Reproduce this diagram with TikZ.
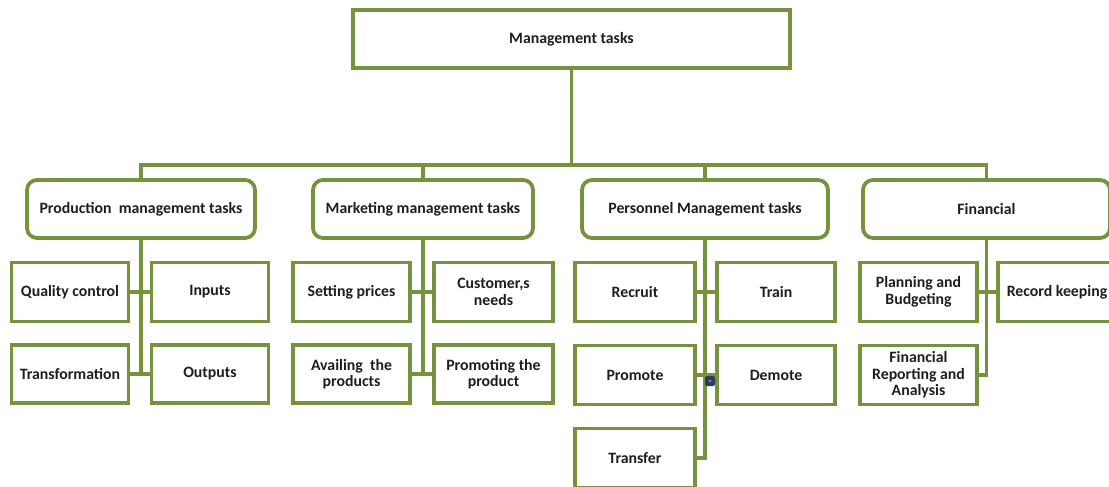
\documentclass[tikz,border=0pt]{standalone}
\usepackage{fontspec}
\setmainfont{Carlito}
\definecolor{olive}{HTML}{76923C}
\definecolor{txt}{HTML}{1E1E1E}
\definecolor{handlec}{HTML}{2C3B63}
\begin{document}
\begin{tikzpicture}[x=1pt,y=-1pt,
  base/.style={draw=olive,line width=3.8pt,fill=white,text=txt,align=center,
    font=\fontsize{15.8}{16.5}\selectfont\bfseries,inner sep=1pt},
  topbox/.style={base},
  midbox/.style={base,rounded corners=10pt,minimum height=58pt},
  leafbox/.style={base,minimum width=117pt,minimum height=59pt},
  conn/.style={draw=olive,line width=3.2pt}]
\useasboundingbox (0,0) rectangle (1109,487);
\clip (0,0) rectangle (1109,487);
% top
\node[topbox,minimum width=437pt,minimum height=58pt] (top) at (571.5,39) {Management tasks};
% level 2
\node[midbox,minimum width=228pt] (prod) at (141,209) {Production\ \ management tasks};
\node[midbox,minimum width=220pt] (mark) at (423,209) {Marketing management tasks};
\node[midbox,minimum width=246pt] (pers) at (705,209) {Personnel Management tasks};
\node[midbox,minimum width=247pt] (fin) at (986.5,209) {Financial};
% production
\node[leafbox] (qc) at (70,292) {Quality control};
\node[leafbox] (inputs) at (210,292) {Inputs};
\node[leafbox,minimum height=58pt] (transf) at (70,374) {Transformation};
\node[leafbox,minimum height=58pt] (outputs) at (210,374) {Outputs};
% marketing
\node[leafbox] (setp) at (351.5,292) {Setting prices};
\node[leafbox,minimum width=119pt] (cust) at (493.5,292) {Customer,s\\needs};
\node[leafbox,minimum height=58pt] (avail) at (351.5,374) {Availing\ \ the\\products};
\node[leafbox,minimum width=119pt,minimum height=58pt] (promo) at (493.5,374) {Promoting the\\product};
% personnel
\node[leafbox,minimum width=120pt] (recruit) at (635,292) {Recruit};
\node[leafbox,minimum width=118pt] (train) at (776,292) {Train};
\node[leafbox,minimum width=120pt] (promote) at (635,375) {Promote};
\node[leafbox,minimum width=118pt] (demote) at (776,375) {Demote};
\node[leafbox,minimum width=120pt] (transfer) at (635,458) {Transfer};
% financial
\node[leafbox] (plan) at (918.5,292) {Planning and\\Budgeting};
\node[leafbox,minimum width=118pt] (record) at (1057,292) {Record keeping};
\node[leafbox] (finrep) at (918.5,375) {Financial\\Reporting and\\Analysis};
% connectors
\coordinate (bus) at (572,165);
\draw[conn] (top.south) -- (top.south |- bus);
\draw[conn] (prod.north) -- (prod.north |- bus) -- (fin.north |- bus) -- (fin.north);
\draw[conn] (mark.north) -- (mark.north |- bus);
\draw[conn] (pers.north) -- (pers.north |- bus);
% production
\draw[conn] (prod.south) -- (prod.south |- transf.east);
\draw[conn] (qc.east) -- (inputs.west);
\draw[conn] (transf.east) -- (outputs.west);
% marketing
\draw[conn] (mark.south) -- (mark.south |- avail.east);
\draw[conn] (setp.east) -- (cust.west);
\draw[conn] (avail.east) -- (promo.west);
% personnel
\draw[conn] (pers.south) -- (pers.south |- transfer.east) -- (transfer.east);
\draw[conn] (recruit.east) -- (train.west);
\draw[conn] (promote.east) -- (demote.west);
% financial
\draw[conn] (fin.south) -- (fin.south |- finrep.east) -- (finrep.east);
\draw[conn] (plan.east) -- (record.west);
% selection handle
\node[fill=handlec,rounded corners=2pt,minimum size=10pt,inner sep=0pt] (handle) at (710,381) {};
\fill[handlec!55!white] (handle.center) circle (1.3pt);
\end{tikzpicture}
\end{document}
